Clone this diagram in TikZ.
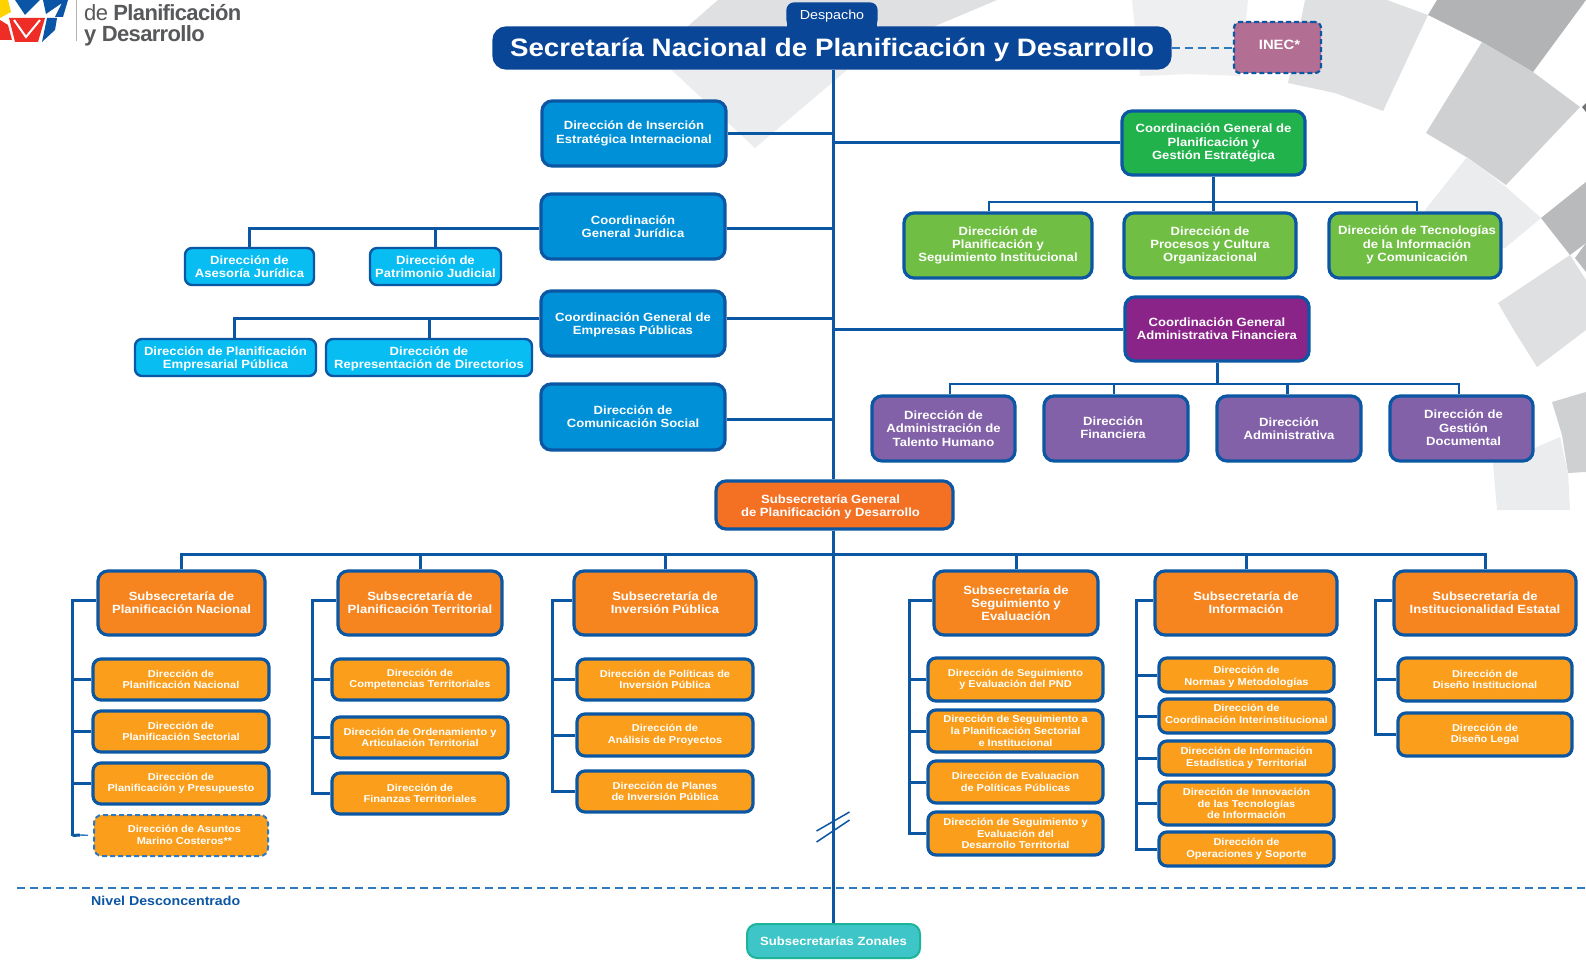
\documentclass[tikz,border=0pt]{standalone}
\usepackage{fontspec}
\setmainfont{Liberation Sans}[FakeStretch=1.1]
\newfontfamily\logofont{Liberation Sans}[LetterSpace=-3]
\definecolor{lineblue}{HTML}{0B57A4}
\definecolor{dashblue}{HTML}{2F79C0}
\definecolor{titlefill}{HTML}{0A4698}
\definecolor{bluefill}{HTML}{0090D7}
\definecolor{cyanfill}{HTML}{08BDF2}
\definecolor{greenA}{HTML}{22B24C}
\definecolor{greenB}{HTML}{70BF44}
\definecolor{purpleA}{HTML}{8B2489}
\definecolor{purpleB}{HTML}{8261A9}
\definecolor{inecfill}{HTML}{B36E93}
\definecolor{orangeA}{HTML}{F47023}
\definecolor{orangeB}{HTML}{F68520}
\definecolor{amber}{HTML}{FB9E1B}
\definecolor{tealfill}{HTML}{3DC5C8}
\definecolor{tealline}{HTML}{1FB39A}
\definecolor{gA}{HTML}{EEEFF0}
\definecolor{gB}{HTML}{DFE0E2}
\definecolor{gC}{HTML}{B2B3B5}
\definecolor{gD}{HTML}{CFD0D2}
\definecolor{gE}{HTML}{EBECEE}
\definecolor{gF}{HTML}{B9BABC}
\definecolor{logoblue}{HTML}{0A55A5}
\definecolor{logored}{HTML}{EE2D27}
\definecolor{logoyellow}{HTML}{FFD200}
\definecolor{logogray}{HTML}{58595B}
\tikzset{
  basebox/.style={draw=lineblue,line width=3.2pt,rounded corners=10pt,text=white,align=center,inner sep=0pt,font=\bfseries\fontsize{11.9}{13.3}\selectfont},
  midbox/.style={basebox,rounded corners=8pt,font=\bfseries\fontsize{10}{11.7}\selectfont},
  bluebox/.style={basebox,fill=bluefill},
  cyanbox/.style={basebox,fill=cyanfill,rounded corners=7pt,line width=2.4pt},
  greenabox/.style={basebox,fill=greenA},
  greenbbox/.style={basebox,fill=greenB},
  purpleabox/.style={basebox,fill=purpleA},
  purplebbox/.style={basebox,fill=purpleB},
  orangeabox/.style={basebox,fill=orangeA},
  orangebbox/.style={basebox,fill=orangeB},
  amberbox/.style={midbox,fill=amber},
  amberdash/.style={amberbox,draw=dashblue,line width=2pt,dash pattern=on 5pt off 3pt},
  conn/.style={draw=lineblue,line width=3pt},
  thinconn/.style={draw=lineblue,line width=2.8pt},
  dashconn/.style={draw=dashblue,line width=1.6pt,dash pattern=on 8pt off 5pt},
}
\newcommand{\bx}[7]{%
  \pgfmathsetmacro{\cxx}{(#3+#5)/2}\pgfmathsetmacro{\cyy}{(#4+#6)/2}%
  \pgfmathsetmacro{\wdd}{#5-#3-2}\pgfmathsetmacro{\htt}{#6-#4-2}%
  \node[#1,minimum width=\wdd pt,minimum height=\htt pt] (#2) at (\cxx,\cyy) {#7};}
% text block moved inside its box: #1 twice the sideways move, #2 downward move
\newcommand{\tw}[3]{\hspace*{#1pt}\raisebox{0pt}[\dimexpr\height+#2pt+#2pt\relax]{\begin{tabular}{@{}c@{}}#3\end{tabular}}}
\begin{document}
\begin{tikzpicture}[x=1pt,y=-1pt]
\useasboundingbox (0,0) rectangle (1586,960);
\fill[white] (0,0) rectangle (1586,960);
% background segments
\fill[gA] (1132,0)--(1248,0)--(1240,76)--(1190,74)--(1140,76)--cycle;
\fill[gB] (1305,0)--(1387,0)--(1428,15)--(1383,111)--(1335,93)--(1288,83)--cycle;
\fill[gC] (1428,15)--(1437,0)--(1586,0)--(1533,72)--(1482,42)--cycle;
\fill[gD] (1482,42)--(1533,72)--(1580,107)--(1506,185)--(1468,158)--(1426,133)--cycle;
\fill[gray!90!black] (1582,107)--(1586,103)--(1586,112)--cycle;
\fill[gE] (1467,157)--(1506,187)--(1541,218)--(1505,248)--(1460,250)--(1425,210)--cycle;
\fill[gF] (1586,182)--(1541,218)--(1570,255)--(1586,243)--cycle;
\fill[gF] (1575,258)--(1586,243)--(1586,272)--cycle;
\fill[gB] (1570,255)--(1586,280)--(1586,330)--(1537,367)--(1515,332)--(1498,303)--cycle;
\fill[gD] (1552,402)--(1586,392)--(1586,472)--(1568,473)--(1562,435)--cycle;
\fill[gE] (1493,463)--(1530,450)--(1560,437)--(1568,473)--(1570,510)--(1497,510)--cycle;
\fill[gE] (661,60)--(755,148)--(847,70)--(847,40)--(680,40)--cycle;
\fill[gB] (718,0)--(997,0)--(933,27)--(900,45)--(675,45)--(687,27)--cycle;
% logo
\fill[logoyellow] (0,0)--(8,0)--(11,12)--(0,18)--cycle;
\fill[logored] (0,20)--(8,25)--(12,40)--(0,40)--cycle;
\fill[logoblue] (15,0)--(40,0)--(25,15)--cycle;
\fill[logored] (9,18)--(45,18)--(38,42)--(15,42)--cycle;
\draw[white,line width=2pt] (14,20)--(26,37)--(40,20);
\fill[logoblue] (43,0)--(68,0)--(63,17)--(55,17)--(62,3)--(46,14)--cycle;
\fill[logoblue] (47,18)--(57,18)--(55,30)--(42,42)--cycle;
\draw[gray!60,line width=0.8pt] (76,0)--(76,41);
\node[anchor=west,inner sep=0pt,text=logogray,align=left,font=\logofont\fontsize{22}{21.5}\selectfont] (logotext) at (84,25) {de {\bfseries Planificación}\\{\bfseries y Desarrollo}};
% boxes
\fill[titlefill] (787,15) rectangle (877,30);
\bx{basebox,fill=titlefill,draw=titlefill,rounded corners=6pt,font=\fontsize{13}{14}\selectfont}{desp}{787}{3}{877}{27}{\tw{0}{1.5}{Despacho}}
\bx{basebox,fill=titlefill,draw=titlefill,rounded corners=12pt,font=\bfseries\fontsize{25.2}{28}\selectfont}{title}{493}{27}{1171}{69}{\tw{0}{3}{Secretaría Nacional de Planificación y Desarrollo}}
\bx{basebox,fill=inecfill,draw=lineblue,line width=2.2pt,dash pattern=on 5pt off 3pt,rounded corners=6pt,font=\bfseries\fontsize{13.5}{15}\selectfont}{inec}{1233}{21}{1322}{74}{\tw{4}{-1}{INEC*}}
\bx{bluebox}{ins}{541}{100}{727}{167}{Dirección de Inserción\\Estratégica Internacional}
\bx{bluebox}{jur}{540}{193}{726}{260}{Coordinación\\General Jurídica}
\bx{bluebox}{emp}{540}{290}{726}{357}{\tw{0}{1.5}{Coordinación General de\\Empresas Públicas}}
\bx{bluebox}{com}{540}{383}{726}{451}{Dirección de\\Comunicación Social}
\bx{cyanbox}{ase}{184}{247}{315}{286}{Dirección de\\Asesoría Jurídica}
\bx{cyanbox}{pat}{369}{247}{502}{286}{Dirección de\\Patrimonio Judicial}
\bx{cyanbox}{pem}{134}{338}{317}{377}{\tw{0}{2}{Dirección de Planificación\\Empresarial Pública}}
\bx{cyanbox}{rep}{325}{338}{533}{377}{\tw{0}{2}{Dirección de\\Representación de Directorios}}
\bx{greenabox}{cpl}{1121}{110}{1306}{176}{Coordinación General de\\Planificación y\\Gestión Estratégica}
\bx{greenbbox}{gra}{903}{212}{1093}{279}{Dirección de\\Planificación y\\Seguimiento Institucional}
\bx{greenbbox}{grb}{1123}{212}{1297}{279}{Dirección de\\Procesos y Cultura\\Organizacional}
\bx{greenbbox}{grc}{1328}{212}{1502}{279}{\tw{4}{0}{Dirección de Tecnologías\\de la Información\\y Comunicación}}
\bx{purpleabox}{caf}{1124}{296}{1310}{362}{Coordinación General\\Administrativa Financiera}
\bx{purplebbox}{pua}{871}{395}{1016}{462}{Dirección de\\Administración de\\Talento Humano}
\bx{purplebbox}{pub}{1043}{395}{1189}{462}{\tw{-6}{1}{Dirección\\Financiera}}
\bx{purplebbox}{puc}{1216}{395}{1362}{462}{Dirección\\Administrativa}
\bx{purplebbox}{pud}{1389}{395}{1534}{462}{\tw{4}{1}{Dirección de\\Gestión\\Documental}}
\bx{orangeabox}{gen}{715}{480}{954}{530}{\tw{-8}{2}{Subsecretaría General\\de Planificación y Desarrollo}}
\bx{orangebbox}{sa}{97}{570}{266}{636}{Subsecretaría de\\Planificación Nacional}
\bx{orangebbox}{sb}{337}{570}{503}{636}{Subsecretaría de\\Planificación Territorial}
\bx{orangebbox}{sc}{573}{570}{757}{636}{Subsecretaría de\\Inversión Pública}
\bx{orangebbox}{sd}{933}{570}{1099}{636}{Subsecretaría de\\Seguimiento y\\Evaluación}
\bx{orangebbox}{se}{1154}{570}{1338}{636}{Subsecretaría de\\Información}
\bx{orangebbox}{sf}{1393}{570}{1577}{636}{Subsecretaría de\\Institucionalidad Estatal}
\bx{amberbox}{aa}{92}{658}{270}{701}{Dirección de\\Planificación Nacional}
\bx{amberbox}{ab}{92}{710}{270}{753}{Dirección de\\Planificación Sectorial}
\bx{amberbox}{ac}{92}{762}{270}{805}{Dirección de\\Planificación y Presupuesto}
\bx{amberdash}{ad}{93}{814}{269}{857}{\tw{7}{1}{Dirección de Asuntos\\Marino Costeros**}}
\bx{amberbox}{ba}{331}{658}{509}{701}{Dirección de\\Competencias Territoriales}
\bx{amberbox}{bb}{331}{716}{509}{759}{Dirección de Ordenamiento y\\Articulación Territorial}
\bx{amberbox}{bc}{331}{772}{509}{815}{Dirección de\\Finanzas Territoriales}
\bx{amberbox}{ca}{576}{658}{754}{701}{Dirección de Políticas de\\Inversión Pública}
\bx{amberbox}{cb}{576}{713}{754}{757}{Dirección de\\Análisis de Proyectos}
\bx{amberbox}{cc}{576}{770}{754}{813}{Dirección de Planes\\de Inversión Pública}
\bx{amberbox}{da}{927}{657}{1104}{702}{Dirección de Seguimiento\\y Evaluación del PND}
\bx{amberbox}{db}{927}{709}{1104}{753}{Dirección de Seguimiento a\\la Planificación Sectorial\\e Institucional}
\bx{amberbox}{dc}{927}{760}{1104}{804}{Dirección de Evaluacion\\de Políticas Públicas}
\bx{amberbox}{dd}{927}{811}{1104}{856}{Dirección de Seguimiento y\\Evaluación del\\Desarrollo Territorial}
\bx{amberbox}{ea}{1158}{657}{1335}{693}{\tw{0}{2.5}{Dirección de\\Normas y Metodologías}}
\bx{amberbox}{eb}{1158}{698}{1335}{734}{\tw{0}{-1}{Dirección de\\Coordinación Interinstitucional}}
\bx{amberbox}{ec}{1158}{740}{1335}{776}{Dirección de Información\\Estadística y Territorial}
\bx{amberbox}{ed}{1158}{781}{1335}{826}{Dirección de Innovación\\de las Tecnologías\\de Información}
\bx{amberbox}{ee}{1158}{831}{1335}{867}{Dirección de\\Operaciones y Soporte}
\bx{amberbox}{fa}{1397}{657}{1573}{702}{Dirección de\\Diseño Institucional}
\bx{amberbox}{fb}{1397}{712}{1573}{757}{Dirección de\\Diseño Legal}
\bx{basebox,fill=tealfill,draw=tealline,line width=2pt}{zon}{746}{923}{921}{959}{Subsecretarías Zonales}
\node[anchor=west,inner sep=0pt,text=lineblue,font=\bfseries\fontsize{12.9}{14}\selectfont] (nivel) at (91,901) {Nivel Desconcentrado};
% connectors
\coordinate (tr) at (833,0);
\coordinate (lvlB) at (17,888);
\coordinate (lvlC) at (1586,888);
\draw[dashconn] (lvlB)--(lvlC);
\draw[conn] (title.south -| tr)--(gen.north -| tr);
\draw[conn] (gen.south -| tr)--(zon.north -| tr);
\draw[dashconn] (title.east |- 0,48)--(inec.west |- 0,48);
\draw[conn] (ins.east |- 0,134)--(tr |- 0,134);
\draw[conn] (jur.east |- 0,228)--(tr |- 0,228);
\draw[conn] (emp.east |- 0,318)--(tr |- 0,318);
\draw[conn] (com.east |- 0,419)--(tr |- 0,419);
\draw[conn] (cpl.west)--(tr |- cpl.west);
\draw[conn] (caf.west)--(tr |- caf.west);
% jur children
\coordinate (jbar) at (0,228);
\draw[conn] (jur.west |- jbar)--(ase.north |- jbar)--(ase.north);
\draw[conn] (pat.north |- jbar)--(pat.north);
\coordinate (ebar) at (0,318);
\coordinate (ebarL) at (234,318);
\draw[conn] (emp.west |- ebar)--(ebarL)--(ebarL |- pem.north);
\draw[conn] (rep.north |- ebar)--(rep.north);
% green children
\coordinate (gbar) at (0,202);
\coordinate (gbarL) at (989,202);
\coordinate (gbarR) at (1417,202);
\draw[thinconn] (gbarL |- gra.north)--(gbarL)--(gbarR)--(gbarR |- grc.north);
\draw[conn] (cpl.south)--(cpl.south |- grb.north);
% purple children
\coordinate (pbar) at (0,384);
\coordinate (pbarL) at (950,384);
\coordinate (pbarM) at (1114,384);
\coordinate (pbarN) at (1287.5,384);
\coordinate (pbarR) at (1459,384);
\draw[conn] (caf.south)--(caf.south |- pbar);
\draw[thinconn] (pbarL |- pua.north)--(pbarL)--(pbarR)--(pbarR |- pud.north);
\draw[thinconn] (pbarM)--(pbarM |- pub.north);
\draw[thinconn] (pbarN)--(pbarN |- puc.north);
% sub bar
\coordinate (sbar) at (0,554);
\draw[conn] (sa.north)--(sa.north |- sbar)--(sf.north |- sbar)--(sf.north);
\foreach \n in {sb,sc,sd,se}{\draw[conn] (\n.north)--(\n.north |- sbar);}
% rails
\coordinate (ra) at (72.5,600);
\coordinate (radash) at (80,835);
\draw[conn] (sa.west |- ra)--(ra)--(ra |- ad.west);
\foreach \n in {aa,ab,ac}{\draw[conn] (ra |- \n.west)--(\n.west);}
\draw[conn] (ra |- ad.west)--(radash);
\draw[dashconn,line width=1.4pt] (radash)--(ad.west);
\coordinate (rb) at (312,600);
\draw[conn] (sb.west |- rb)--(rb)--(rb |- bc.west)--(bc.west);
\foreach \n in {ba,bb}{\draw[conn] (rb |- \n.west)--(\n.west);}
\coordinate (rc) at (552.5,600);
\draw[conn] (sc.west |- rc)--(rc)--(rc |- cc.west)--(cc.west);
\foreach \n in {ca,cb}{\draw[conn] (rc |- \n.west)--(\n.west);}
\coordinate (rd) at (909,600);
\draw[conn] (sd.west |- rd)--(rd)--(rd |- dd.west)--(dd.west);
\foreach \n in {da,db,dc}{\draw[conn] (rd |- \n.west)--(\n.west);}
\coordinate (re) at (1136,600);
\draw[conn] (se.west |- re)--(re)--(re |- ee.west)--(ee.west);
\foreach \n in {ea,eb,ec,ed}{\draw[conn] (re |- \n.west)--(\n.west);}
\coordinate (rf) at (1375.5,600);
\draw[conn] (sf.west |- rf)--(rf)--(rf |- fb.west)--(fb.west);
\draw[conn] (rf |- fa.west)--(fa.west);
% break mark
\coordinate (ka) at (816.5,831);
\coordinate (kb) at (849.5,812);
\coordinate (kc) at (816.5,842);
\coordinate (kd) at (849.5,820);
\draw[draw=lineblue,line width=1.5pt] (ka)--(kb) (kc)--(kd);
\end{tikzpicture}
\end{document}
